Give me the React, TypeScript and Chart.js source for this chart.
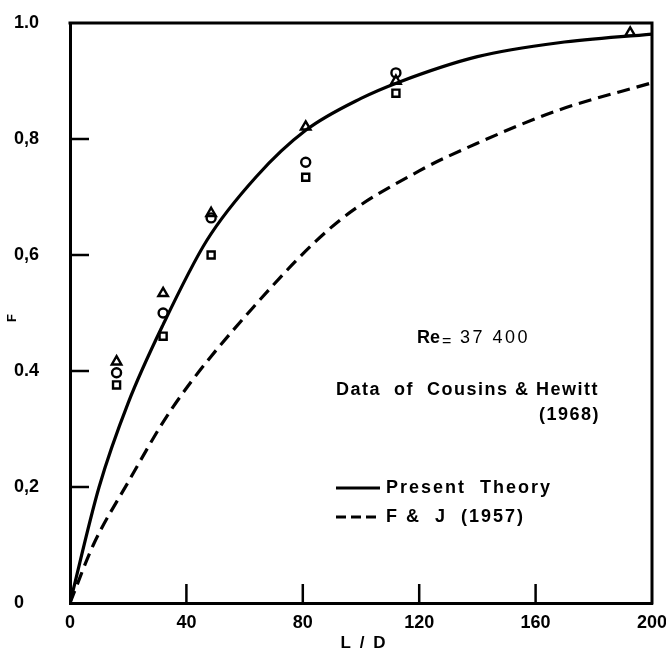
import React, { useEffect, useRef } from "react";
import { Chart, registerables } from "chart.js";

Chart.register(...registerables);

// L/D positions and F values of the measured points (Cousins & Hewitt, 1968)
const triangleLD = [16, 32, 48.5, 81, 112, 192.5];
const triangleF = [0.416, 0.534, 0.672, 0.821, 0.9, 0.983];
const circleLD = [16, 32, 48.5, 81, 112];
const circleF = [0.397, 0.5, 0.664, 0.76, 0.914];
const squareLD = [16, 32, 48.5, 81, 112];
const squareF = [0.376, 0.46, 0.6, 0.734, 0.879];

// Present theory curve
const theoryLD = [0, 10, 20, 32, 47, 64, 81, 100, 113, 140, 168, 200];
const theoryF = [0, 0.2, 0.345, 0.48, 0.625, 0.735, 0.815, 0.87, 0.898, 0.942, 0.966, 0.981];

// F & J (1957) curve
const fjLD = [0, 8, 19.6, 35, 63, 92, 120, 141, 168, 200];
const fjF = [0, 0.1, 0.205, 0.335, 0.51, 0.657, 0.745, 0.795, 0.85, 0.897];

// Axis tick labels
const xTicks = [0, 40, 80, 120, 160, 200];
const xTickLabels = ["0", "40", "80", "120", "160", "200"];
const yTicks = [0, 0.2, 0.4, 0.6, 0.8, 1.0];
const yTickLabels = ["0", "0,2", "0.4", "0,6", "0,8", "1.0"];

const FONT = "'Liberation Sans', Arial, sans-serif";

const pairs = (xs: number[], ys: number[]) => xs.map((x, i) => ({ x, y: ys[i] }));

const framePlugin = {
  id: "frameAndNotes",
  afterDraw(chart: any) {
    const { ctx, chartArea, scales } = chart;
    const xs = scales.x;
    const ys = scales.y;
    ctx.save();
    ctx.strokeStyle = "#000";
    ctx.fillStyle = "#000";
    ctx.lineCap = "butt";

    // top and right frame
    ctx.lineWidth = 3;
    ctx.beginPath();
    ctx.moveTo(chartArea.left - 1.5, chartArea.top);
    ctx.lineTo(chartArea.right, chartArea.top);
    ctx.lineTo(chartArea.right, chartArea.bottom + 1.5);
    ctx.stroke();

    // inward tick marks
    ctx.lineWidth = 2.5;
    xTicks.slice(1, -1).forEach((v) => {
      const px = xs.getPixelForValue(v);
      ctx.beginPath();
      ctx.moveTo(px, chartArea.bottom);
      ctx.lineTo(px, chartArea.bottom - 19);
      ctx.stroke();
    });
    yTicks.slice(1, -1).forEach((v) => {
      const py = ys.getPixelForValue(v);
      ctx.beginPath();
      ctx.moveTo(chartArea.left, py);
      ctx.lineTo(chartArea.left + 19, py);
      ctx.stroke();
    });

    // axis titles
    ctx.textBaseline = "middle";
    ctx.textAlign = "center";
    ctx.font = `bold 17px ${FONT}`;
    (ctx as any).letterSpacing = "2px";
    ctx.fillText("L / D", (chartArea.left + chartArea.right) / 2 + 3, 643);
    (ctx as any).letterSpacing = "0px";
    ctx.save();
    ctx.translate(12, 318);
    ctx.rotate(-Math.PI / 2);
    ctx.font = `bold 13px ${FONT}`;
    ctx.fillText("F", 0, 0);
    ctx.restore();

    // Reynolds number note
    ctx.textAlign = "left";
    ctx.font = `bold 18px ${FONT}`;
    ctx.fillText("Re", 417, 338);
    ctx.font = `16px ${FONT}`;
    ctx.fillText("=", 442, 342);
    ctx.font = `18px ${FONT}`;
    (ctx as any).letterSpacing = "2.5px";
    ctx.fillText("37 400", 460, 338);

    // data source note
    ctx.font = `bold 18px ${FONT}`;
    (ctx as any).letterSpacing = "1.5px";
    ctx.fillText("Data  of  Cousins & Hewitt", 336, 390);
    ctx.textAlign = "right";
    ctx.fillText("(1968)", 600, 415);

    // legend
    ctx.textAlign = "left";
    (ctx as any).letterSpacing = "2px";
    ctx.fillText("Present  Theory", 386, 488);
    ctx.fillText("F &  J  (1957)", 386, 517);
    (ctx as any).letterSpacing = "0px";
    ctx.lineWidth = 3;
    ctx.beginPath();
    ctx.moveTo(336, 488);
    ctx.lineTo(380, 488);
    ctx.stroke();
    ctx.setLineDash([10, 5]);
    ctx.beginPath();
    ctx.moveTo(336, 517);
    ctx.lineTo(380, 517);
    ctx.stroke();
    ctx.restore();
  },
};

export default function App() {
  const canvasRef = useRef<HTMLCanvasElement>(null);

  useEffect(() => {
    if (!canvasRef.current) return;
    const markerBase = {
      type: "scatter" as const,
      showLine: false,
      borderColor: "#000",
      backgroundColor: "rgba(0,0,0,0)",
      borderWidth: 2.4,
      pointRadius: 5,
    };
    const chart = new Chart(canvasRef.current, {
      type: "scatter",
      data: {
        datasets: [
          {
            label: "Present Theory",
            data: pairs(theoryLD, theoryF),
            showLine: true,
            borderColor: "#000",
            borderWidth: 3.2,
            pointRadius: 0,
            cubicInterpolationMode: "monotone",
          },
          {
            label: "F & J (1957)",
            data: pairs(fjLD, fjF),
            showLine: true,
            borderColor: "#000",
            borderWidth: 3.2,
            borderDash: [13, 7],
            pointRadius: 0,
            cubicInterpolationMode: "monotone",
          },
          { ...markerBase, label: "triangle", data: pairs(triangleLD, triangleF), pointStyle: "triangle", pointRadius: 5.5 },
          { ...markerBase, label: "circle", data: pairs(circleLD, circleF), pointStyle: "circle", pointRadius: 4.5 },
          { ...markerBase, label: "square", data: pairs(squareLD, squareF), pointStyle: "rect", pointRadius: 5 },
        ],
      },
      options: {
        responsive: false,
        animation: false,
        layout: { padding: { left: 14, right: 14, top: 23, bottom: 0 } },
        plugins: { legend: { display: false }, tooltip: { enabled: false } },
        scales: {
          x: {
            type: "linear",
            min: 0,
            max: 200,
            afterBuildTicks: (scale: any) => {
              scale.ticks = xTicks.map((v) => ({ value: v }));
            },
            afterFit: (scale: any) => {
              scale.height = 54;
              scale.paddingLeft = 0;
              scale.paddingRight = 0;
            },
            grid: { display: false },
            border: { display: true, color: "#000", width: 3 },
            ticks: {
              color: "#000",
              padding: 1,
              maxRotation: 0,
              autoSkip: false,
              font: { family: FONT, size: 18, weight: "bold" },
              callback: (v: any) => xTickLabels[xTicks.indexOf(Number(v))] ?? "",
            },
          },
          y: {
            type: "linear",
            min: 0,
            max: 1,
            afterBuildTicks: (scale: any) => {
              scale.ticks = yTicks.map((v) => ({ value: v }));
            },
            afterFit: (scale: any) => {
              scale.width = 56;
              scale.paddingTop = 0;
              scale.paddingBottom = 0;
            },
            grid: { display: false },
            border: { display: true, color: "#000", width: 3 },
            ticks: {
              color: "#000",
              crossAlign: "far",
              autoSkip: false,
              font: { family: FONT, size: 18, weight: "bold" },
              callback: (v: any) => {
                const i = yTicks.findIndex((t) => Math.abs(t - Number(v)) < 1e-6);
                return i >= 0 ? yTickLabels[i] : "";
              },
            },
          },
        },
      },
      plugins: [framePlugin],
    });
    return () => chart.destroy();
  }, []);

  return (
    <div style={{ position: "absolute", left: 0, top: 0, width: 666, height: 657, background: "#fff" }}>
      <canvas ref={canvasRef} width={666} height={657} style={{ display: "block" }} />
    </div>
  );
}
